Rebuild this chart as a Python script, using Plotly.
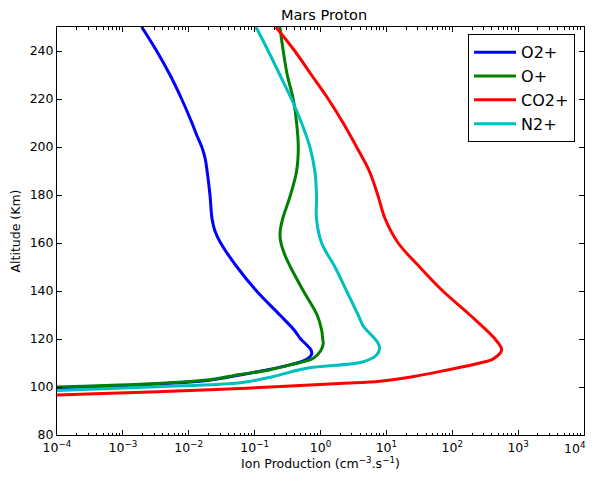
import plotly.graph_objects as go

# ---- data (altitude in km, production in cm^-3 s^-1) ----
o2_alt = [99.7, 101.3, 102.7, 105.0, 109.0, 111.0, 112.4, 113.8, 115.4, 117.0, 120.0, 123.75, 130, 140, 150, 160, 165, 170, 180, 190, 195, 200, 205, 210, 220, 230, 240, 250]
o2_val = [1.0e-4, 3.3e-3, 1.9e-2, 6.0e-2, 3.2e-1, 5.6e-1, 6.8e-1, 7.35e-1, 7.2e-1, 6.45e-1, 5.0e-1, 3.98e-1, 2.42e-1, 1.07e-1, 5.4e-2, 3.05e-2, 2.5e-2, 2.26e-2, 2.1e-2, 1.9e-2, 1.78e-2, 1.58e-2, 1.32e-2, 1.12e-2, 7.8e-3, 5.2e-3, 3.26e-3, 1.93e-3]

op_alt = [100.0, 101.5, 102.9, 105.2, 107.0, 109.2, 112.0, 115.0, 118.0, 120, 123.75, 130, 140, 150, 155, 160, 163, 166, 170, 180, 190, 200, 210, 220, 230, 240, 250]
op_val = [1.0e-4, 3.3e-3, 1.9e-2, 6.0e-2, 1.6e-1, 3.44e-1, 7.8e-1, 1.0, 1.1, 1.08, 1.04, 8.9e-1, 5.5e-1, 3.5e-1, 2.88e-1, 2.51e-1, 2.43e-1, 2.47e-1, 2.66e-1, 3.5e-1, 4.34e-1, 4.6e-1, 4.34e-1, 3.85e-1, 3.13e-1, 2.72e-1, 2.42e-1]

co2_alt = [96.7, 98.0, 99.5, 101.5, 102.4, 104.3, 107, 110, 111.7, 115.4, 120, 130, 140, 150, 160, 170, 180, 190, 200, 210, 220, 230, 240, 250]
co2_val = [1.0e-4, 3.3e-3, 7.6e-2, 1.95, 8.0, 25.0, 81.0, 263.0, 417.0, 562.0, 447.0, 186.0, 72.0, 32.0, 15.1, 9.6, 7.4, 5.5, 3.53, 2.21, 1.31, 7.3e-1, 4.07e-1, 2.1e-1]

n2_alt = [98.5, 100.1, 101.9, 104.5, 107.8, 110.5, 113.3, 116.1, 118.2, 121.5, 123.75, 125.4, 130, 140, 150, 160, 170, 180, 190, 200, 210, 220, 230, 240, 250]
n2_val = [1.0e-4, 3.3e-3, 6.5e-2, 2.0e-1, 6.2e-1, 4.45, 7.1, 7.9, 7.5, 6.0, 5.0, 4.45, 3.73, 2.49, 1.66, 1.04, 8.7e-1, 8.7e-1, 8.2e-1, 6.9e-1, 5.16e-1, 3.63e-1, 2.42e-1, 1.61e-1, 1.05e-1]

series_names = ["O2+", "O+", "CO2+", "N2+"]
series_colors = ["#0000ff", "#008000", "#ff0000", "#00bfbf"]
series_x = [o2_val, op_val, co2_val, n2_val]
series_y = [o2_alt, op_alt, co2_alt, n2_alt]

x_exponents = [-4, -3, -2, -1, 0, 1, 2, 3, 4]
x_ticktext = ["10<sup>%s</sup>" % (str(e).replace("-", "\u2212")) for e in x_exponents]
y_ticks = [80, 100, 120, 140, 160, 180, 200, 220, 240]

fig = go.Figure()
for name, col, xs, ys in zip(series_names, series_colors, series_x, series_y):
    fig.add_trace(go.Scatter(x=xs, y=ys, mode="lines", name=name,
                             line=dict(color=col, width=3, shape="spline", smoothing=1.0)))

minor_vals = [m * 10.0 ** e for e in x_exponents[:-1] for m in range(2, 10)]

# the last decade label sits at the window edge; draw it as an annotation nudged left
edge_text = x_ticktext[-1]
axis_ticktext = x_ticktext[:-1] + [""]

# the page body adds an 8px margin; the figure is offset so the plot area sits where the reference has it
fig.update_layout(
    template="none",
    width=588, height=470,
    margin=dict(l=49, r=12, t=19, b=43, autoexpand=False),
    paper_bgcolor="white", plot_bgcolor="white",
    font=dict(family="DejaVu Sans", size=12, color="black"),
    title=dict(text="Mars Proton", x=0.5375, xanchor="center", y=0.986, yanchor="middle",
               font=dict(size=14.5, color="black"), automargin=False),
    showlegend=True,
    legend=dict(x=0.983, y=0.982, xanchor="right", yanchor="top",
                bgcolor="white", bordercolor="black", borderwidth=1,
                font=dict(size=16), itemwidth=42, tracegroupgap=0),
    annotations=[dict(x=x_exponents[-1], xref="x", y=0, yref="paper", text=edge_text,
                      showarrow=False, xanchor="center", yanchor="top", xshift=-9, yshift=-3,
                      font=dict(size=12.5, color="black"))],
)
fig.update_xaxes(
    type="log", range=[-4, 4], automargin=False,
    tickmode="array", tickvals=[10.0 ** e for e in x_exponents], ticktext=axis_ticktext,
    ticks="inside", ticklen=5, tickcolor="black", tickwidth=1,
    minor=dict(tickmode="array", tickvals=minor_vals, ticks="inside", ticklen=2.5, tickcolor="black", showgrid=False),
    showline=True, linecolor="black", linewidth=1, mirror="ticks",
    showgrid=False, zeroline=False, ticklabeloverflow="allow",
    tickfont=dict(size=12.5), ticklabelstandoff=1,
    title=dict(text="Ion Production (cm<sup>\u22123</sup>.s<sup>\u22121</sup>)", font=dict(size=12.5), standoff=4),
)
fig.update_yaxes(
    range=[80, 250], tickmode="array", tickvals=y_ticks, automargin=False,
    ticks="inside", ticklen=5, tickcolor="black", tickwidth=1,
    showline=True, linecolor="black", linewidth=1, mirror="ticks",
    showgrid=False, zeroline=False,
    tickfont=dict(size=12.5), ticklabelstandoff=0,
    title=dict(text="Altitude (Km)", font=dict(size=12.5), standoff=6),
)

fig.write_html("out.html")
